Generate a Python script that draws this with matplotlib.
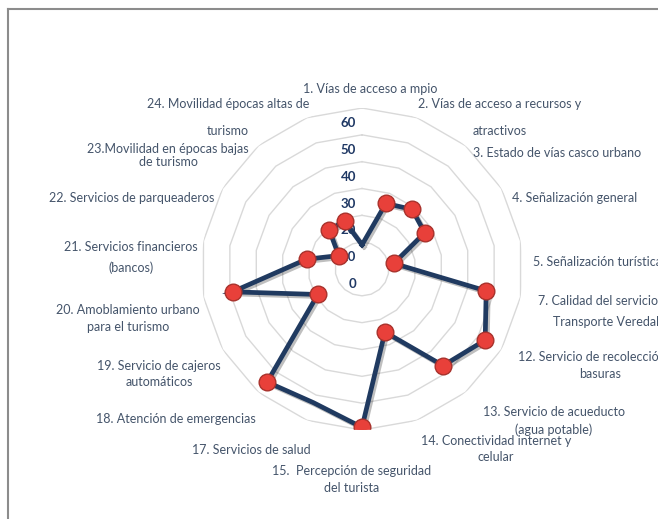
import numpy as np
import matplotlib
matplotlib.use("Agg")
import matplotlib.pyplot as plt
from matplotlib.lines import Line2D
from matplotlib.transforms import offset_copy
import matplotlib.patheffects as pe

plt.rcParams["font.family"] = ["Lato", "DejaVu Sans"]

# ---- data ----------------------------------------------------------------
ITEMS = ["1", "2", "3", "4", "5", "7", "12", "13", "14", "15",
         "17", "18", "19", "20", "21", "22", "23", "24"]
VALUES = [9, 26, 29, 27, 12, 47, 53, 47, 25, 59,
          53, 55, 19, 49, 21, 10, 19, 19]
NO_MARKER = ["1", "17"]          # points drawn on the line without a dot
TICKS = [0, 10, 20, 30, 40, 50, 60]

LABELS = [
    "1. Vías de acceso a mpio",
    "2. Vías de acceso a recursos y\natractivos",
    "3. Estado de vías casco urbano",
    "4. Señalización general",
    "5. Señalización turística",
    "7. Calidad del servicio de\nTransporte Veredal",
    "12. Servicio de recolección de\nbasuras",
    "13. Servicio de acueducto\n(agua potable)",
    "14. Conectividad internet y\ncelular",
    "15.  Percepción de seguridad\ndel turista",
    "17. Servicios de salud",
    "18. Atención de emergencias",
    "19. Servicio de cajeros\nautomáticos",
    "20. Amoblamiento urbano\npara el turismo",
    "21. Servicios financieros\n(bancos)",
    "22. Servicios de parqueaderos",
    "23.Movilidad en épocas bajas\nde turismo",
    "24. Movilidad épocas altas de\nturismo",
]
# label layout in pixels: (x centre, y of first line, gap between lines, ha)
LABEL_POS = [
    (370, 89, 0, "center"), (500, 104, 27, "center"), (557, 153, 0, "center"),
    (575, 198, 0, "center"), (533, 262, 0, "left"), (606, 301, 21, "center"),
    (600, 357, 17, "center"), (554, 412, 18, "center"), (496, 441, 16, "center"),
    (352, 471, 17, "center"), (251, 450, 0, "center"), (176, 419, 0, "center"),
    (159, 366, 16, "center"), (128, 310, 17, "center"), (131, 247, 21, "center"),
    (132, 198, 0, "center"), (168, 149, 13, "center"), (228, 104, 27, "center"),
]

W, H = 658, 519
CX, CY, R = 362, 269, 161        # radar centre and outer radius (px)
TXT = "#44546a"
NAVY = "#1f3864"

fig = plt.figure(figsize=(W / 100, H / 100), dpi=100)
fig.patch.set_facecolor("white")
ax = fig.add_axes([(CX - R) / W, 1 - (CY + R) / H, 2 * R / W, 2 * R / H],
                  projection="polar")
ax.set_theta_zero_location("N")
ax.set_theta_direction(-1)
ax.set_ylim(0, TICKS[-1])
ax.grid(False)
ax.spines["polar"].set_visible(False)
ax.set_xticks([]); ax.set_yticks([])
ax.patch.set_alpha(0)

n = len(ITEMS)
theta = np.linspace(0, 2 * np.pi, n, endpoint=False)
tc = np.r_[theta, theta[0]]

# polygon gridlines
for t in TICKS[1:]:
    ax.plot(tc, np.full(n + 1, t), color="#d9d9d9", lw=1.0, zorder=1)

# value axis labels, a bit left of and below each ring
tr = offset_copy(ax.transData, fig=fig, x=-6, y=-15, units="dots")
for t in TICKS:
    ax.text(0, t, str(t), transform=tr, ha="right", va="center",
            fontsize=9.5, fontweight="bold", color=NAVY, zorder=2)

vals = np.r_[VALUES, VALUES[0]]
ax.plot(tc, vals, color="#203a60", lw=3.4, solid_joinstyle="miter", zorder=3,
        path_effects=[pe.SimpleLineShadow(offset=(1.5, -1.5), alpha=0.25),
                      pe.Normal()])
mk = [i for i, c in enumerate(ITEMS) if c not in NO_MARKER]
ax.plot(theta[mk], np.array(VALUES)[mk], ls="none", marker="o", ms=12,
        mfc="#e8403a", mec="#a8322c", mew=1.0, zorder=4)

# category labels
for lab, (x, y, gap, ha) in zip(LABELS, LABEL_POS):
    for k, line in enumerate(lab.split("\n")):
        fig.text(x / W, 1 - (y + k * gap) / H, line, ha=ha, va="center",
                 fontsize=9, color=TXT)

# frame lines at top and left
fig.add_artist(Line2D([8 / W, 1], [1 - 8.5 / H, 1 - 8.5 / H],
                      color="#8c8c8c", lw=1.5, transform=fig.transFigure))
fig.add_artist(Line2D([8 / W, 8 / W], [1 - 8.5 / H, 0],
                      color="#8c8c8c", lw=1.5, transform=fig.transFigure))

fig.savefig("out.png", dpi=100)
